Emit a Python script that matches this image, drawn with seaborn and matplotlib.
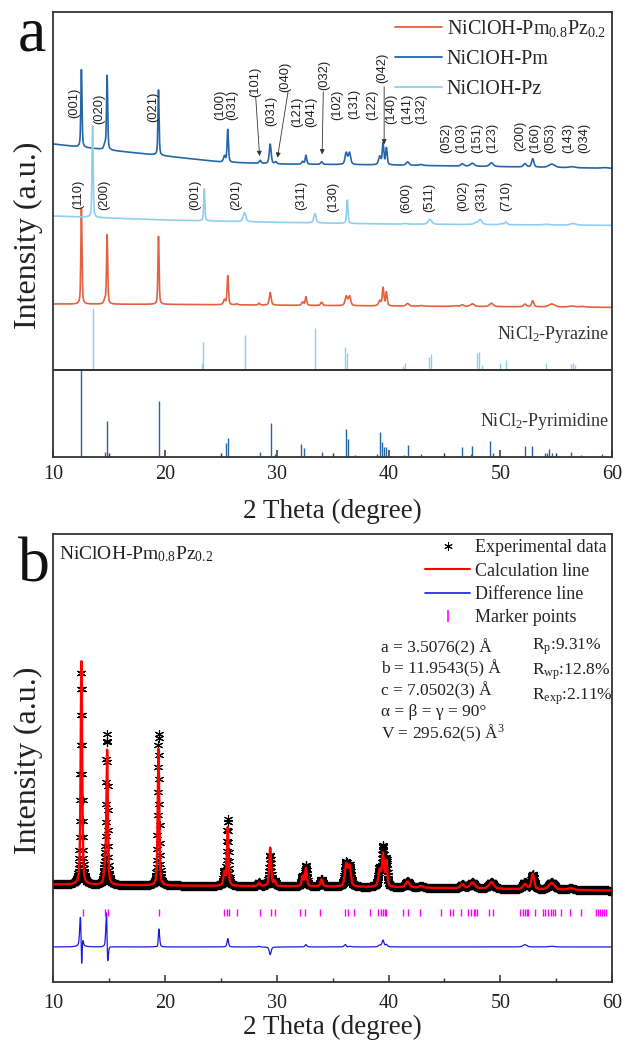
import numpy as np
import seaborn as sns
import matplotlib
matplotlib.use("Agg")
import matplotlib.pyplot as plt
from matplotlib.lines import Line2D

# ---------------- data ----------------
# 2-theta grid of the measurement
tth = np.arange(10, 60.001, 0.02)

# panel a: NiClOH-Pm pattern (peak position, height, half width) + background knots
pm_pos = [12.5, 14.6, 14.8, 19.4, 25.3, 25.6, 28.5, 29.4, 29.9, 32.3, 32.6, 34.0, 36.2, 36.5,
          39.2, 39.5, 39.8, 41.7, 42.9, 46.6, 47.5, 49.2, 52.2, 52.9, 54.6, 56.4, 59.3]
pm_h = [233, 15, 222, 196, 18, 98, 9, 59, 6, 8, 27, 8, 35, 35,
        25, 63, 50, 10, 3, 7, 9, 11, 10, 25, 10, 3, 2]
pm_w = [0.06, 0.1, 0.06, 0.06, 0.1, 0.07, 0.1, 0.1, 0.1, 0.1, 0.08, 0.1, 0.12, 0.12,
        0.12, 0.08, 0.08, 0.15, 0.2, 0.15, 0.2, 0.2, 0.15, 0.12, 0.3, 0.3, 0.3]
pm_bx = [10, 12, 20, 25, 30, 40, 50, 60]
pm_by = [938, 930, 902, 884, 878, 875, 870, 865]

# panel a: NiClOH-Pz pattern
pz_pos = [13.5, 23.5, 27.1, 33.4, 36.3, 41.5, 43.7, 47.8, 48.2, 50.1, 50.5, 54.1, 56.5]
pz_h = [274, 96, 27, 28, 70, 2, 15, 5, 15, 3, 8, 2, 5]
pz_w = [0.06, 0.06, 0.14, 0.12, 0.07, 0.2, 0.18, 0.2, 0.18, 0.15, 0.12, 0.3, 0.3]
pz_bx = [10, 20, 30, 40, 60]
pz_by = [722, 710, 703, 698, 694]

# panel a: NiClOH-Pm0.8Pz0.2 pattern
mix_pos = [12.5, 14.6, 14.8, 19.4, 25.3, 25.6, 26.4, 28.4, 29.4, 32.3, 32.6, 34.0, 36.2, 36.5,
           39.2, 39.5, 39.8, 41.7, 42.9, 45.9, 46.6, 47.5, 49.2, 52.2, 52.9, 54.6, 56.4, 57.3]
mix_h = [287, 12, 207, 204, 15, 87, 3, 5, 38, 10, 26, 10, 28, 28,
         15, 54, 41, 8, 2, 2, 5, 8, 10, 8, 18, 9, 3, 2]
mix_w = [0.06, 0.1, 0.06, 0.06, 0.1, 0.07, 0.1, 0.1, 0.1, 0.1, 0.08, 0.1, 0.12, 0.12,
         0.12, 0.08, 0.08, 0.15, 0.2, 0.2, 0.15, 0.2, 0.2, 0.15, 0.12, 0.3, 0.3, 0.3]
mix_bx = [10, 20, 40, 60]
mix_by = [458, 457, 452, 448]

# reference sticks
pyrazine_pos = [13.5, 23.3, 23.4, 27.1, 33.4, 36.1, 36.3, 41.3, 41.5, 43.6, 43.8, 47.9, 48.1, 48.4,
                50.0, 50.5, 54.1, 56.3, 56.5, 56.7]
pyrazine_h = [185, 20, 85, 105, 125, 68, 50, 12, 20, 40, 47, 50, 55, 15,
              20, 30, 20, 18, 20, 15]
pyrimidine_pos = [12.5, 14.6, 14.8, 19.4, 25.4, 25.6, 26.4, 28.5, 29.5, 29.8, 32.2, 32.4, 34.0,
                  36.2, 36.4, 37.0, 39.0, 39.2, 39.4, 39.6, 39.8, 41.4, 41.7, 42.9, 46.6, 47.4,
                  47.5, 49.1, 49.3, 52.2, 52.8, 54.0, 54.2, 54.4, 54.6, 56.3, 57.2, 59.1]
pyrimidine_h = [260, 15, 108, 168, 40, 55, 3, 15, 102, 7, 37, 27, 14,
                83, 52, 5, 8, 73, 45, 30, 28, 5, 34, 8, 30, 8,
                32, 48, 12, 33, 32, 10, 12, 22, 10, 15, 4, 8]

# hkl labels: (text, 2theta, height)
pm_hkl = [("(001)", 11.9, 1062), ("(020)", 14.1, 1043), ("(021)", 18.9, 1050),
          ("(100)", 24.9, 1056), ("(031)", 26.0, 1055), ("(101)", 28.1, 1125),
          ("(031)", 29.5, 1036), ("(040)", 30.75, 1140), ("(121)", 31.85, 1035),
          ("(041)", 33.05, 1035), ("(032)", 34.2, 1146), ("(102)", 35.4, 1057),
          ("(131)", 36.9, 1057), ("(122)", 38.5, 1055), ("(042)", 39.4, 1168),
          ("(140)", 40.25, 1043), ("(141)", 41.65, 1043), ("(132)", 42.95, 1043),
          ("(052)", 45.2, 957), ("(103)", 46.5, 957), ("(151)", 47.9, 957),
          ("(123)", 49.3, 957), ("(200)", 51.8, 962), ("(160)", 53.1, 957),
          ("(053)", 54.5, 957), ("(143)", 56.1, 957), ("(034)", 57.5, 957)]
pz_hkl = [("(110)", 12.2, 787), ("(200)", 14.5, 787), ("(001)", 22.7, 787),
          ("(201)", 26.4, 787), ("(311)", 32.2, 785), ("(130)", 35.0, 780),
          ("(600)", 41.6, 777), ("(511)", 43.6, 777), ("(002)", 46.7, 782),
          ("(331)", 48.3, 782), ("(710)", 50.5, 782)]
# arrows: (tail x, tail y, head x, head y)
pm_arrows = [(28.1, 1080, 28.45, 902), (31.0, 1095, 30.05, 897),
             (34.15, 1095, 34.05, 907), (39.6, 1110, 39.6, 937)]

# panel b: Rietveld refinement
calc_pos = [12.5, 14.6, 14.8, 19.4, 25.3, 25.6, 28.4, 29.4, 29.8, 32.3, 32.6, 34.0, 36.2, 36.5,
            39.2, 39.5, 39.8, 41.7, 42.9, 46.6, 47.5, 49.2, 52.2, 52.9, 54.6, 56.3]
calc_h = [670, 40, 400, 410, 40, 175, 10, 115, 15, 30, 55, 22, 65, 60,
          50, 95, 75, 18, 5, 12, 18, 20, 15, 45, 20, 5]
calc_w = [0.08, 0.1, 0.08, 0.08, 0.1, 0.08, 0.1, 0.1, 0.1, 0.1, 0.1, 0.12, 0.14, 0.14,
          0.14, 0.1, 0.1, 0.2, 0.2, 0.18, 0.25, 0.25, 0.2, 0.15, 0.3, 0.3]
exp_pos = [12.49, 14.6, 14.78, 19.405, 25.3, 25.6, 28.4, 29.4, 29.8, 32.3, 32.6, 34.0, 36.19, 36.5,
           39.2, 39.5, 39.8, 41.7, 42.9, 46.6, 47.5, 49.2, 52.2, 52.9, 54.6, 56.3]
exp_h = [640, 40, 445, 455, 40, 200, 12, 92, 15, 30, 62, 22, 70, 62,
         55, 115, 82, 18, 5, 12, 18, 20, 22, 45, 22, 5]
exp_w = [0.093, 0.1, 0.08, 0.08, 0.1, 0.08, 0.1, 0.1, 0.1, 0.1, 0.1, 0.12, 0.14, 0.14,
         0.14, 0.1, 0.1, 0.2, 0.2, 0.18, 0.25, 0.25, 0.2, 0.15, 0.3, 0.3]
ref_bx = [10, 20, 30, 40, 50, 60]
ref_by = [292, 289, 287, 284, 279, 274]
diff_offset = 105
marker_pos = [12.6, 14.6, 14.9, 19.45, 25.3, 25.5, 25.7, 26.4, 28.5, 29.5, 29.8, 32.1, 32.5,
              33.9, 36.1, 36.4, 36.9, 38.3, 39.05, 39.3, 39.5, 39.7, 39.8, 41.25, 41.7, 42.85,
              44.7, 45.5, 45.8, 46.5, 47.1, 47.4, 47.6, 47.7, 47.9, 49.0, 49.35, 51.8, 52.0,
              52.2, 52.35, 52.5, 53.1, 53.8, 54.0, 54.25, 54.5, 54.7, 54.85, 55.4, 56.2, 57.2,
              58.6, 58.75, 58.9, 59.1, 59.3, 59.5]
cell_text = ["a = 3.5076(2) Å", "b = 11.9543(5) Å", "c = 7.0502(3) Å",
             "α = β = γ = 90°", "V = 295.62(5) Å$^{3}$"]
r_text = [r"R$_\mathrm{p}$:9.31%", r"R$_\mathrm{wp}$:12.8%", r"R$_\mathrm{exp}$:2.11%"]


def profile(pos, h, w, bx, by):
    y = np.interp(tth, bx, by)
    for p, hh, ww in zip(pos, h, w):
        d = (tth - p) / ww
        y = y + hh * (0.5 / (1 + d ** 2) + 0.5 * np.exp(-np.log(2) * d ** 2))
    return y


pm_y = profile(pm_pos, pm_h, pm_w, pm_bx, pm_by)
pz_y = profile(pz_pos, pz_h, pz_w, pz_bx, pz_by)
mix_y = profile(mix_pos, mix_h, mix_w, mix_bx, mix_by)
calc_y = profile(calc_pos, calc_h, calc_w, ref_bx, ref_by)
exp_y = profile(exp_pos, exp_h, exp_w, ref_bx, ref_by)
diff_y = exp_y - calc_y + diff_offset

# ---------------- style ----------------
sns.set_theme(style="ticks")
plt.rcParams["font.family"] = ["Liberation Serif", "DejaVu Serif"]
plt.rcParams["mathtext.fontset"] = "custom"
plt.rcParams["mathtext.rm"] = "Liberation Serif"
plt.rcParams["mathtext.it"] = "Liberation Serif:italic"
plt.rcParams["axes.edgecolor"] = "#333333"
plt.rcParams["axes.linewidth"] = 1.3

c_mix = "#E2623F"
c_pm = "#2566A8"
c_pz = "#8DCFF2"

fig = plt.figure(figsize=(6.22, 10.42), dpi=100)
ax_a = fig.add_axes([0.0860, 0.5617, 0.8980, 0.4271])
ax_b = fig.add_axes([0.0860, 0.0576, 0.8980, 0.4299])

# ---------------- panel a ----------------
sns.lineplot(x=tth, y=mix_y, ax=ax_a, color=c_mix, lw=1.2, estimator=None)
sns.lineplot(x=tth, y=pm_y, ax=ax_a, color=c_pm, lw=1.2, estimator=None)
sns.lineplot(x=tth, y=pz_y, ax=ax_a, color=c_pz, lw=1.2, estimator=None)
sep = 260
ax_a.vlines(pyrazine_pos, sep, sep + np.array(pyrazine_h), color=c_pz, lw=1.0)
ax_a.vlines(pyrimidine_pos, 0, pyrimidine_h, color=c_pm, lw=1.0)
ax_a.axhline(sep, color="#222222", lw=1.3)

for t, x, y in pm_hkl + pz_hkl:
    ax_a.text(x, y, t, rotation=90, ha="center", va="center", fontsize=9.3,
              family="Liberation Sans", color="#222222")
for x0, y0, x1, y1 in pm_arrows:
    ax_a.annotate("", xy=(x1, y1), xytext=(x0, y0),
                  arrowprops=dict(arrowstyle="-|>", color="#333333", lw=0.6,
                                  mutation_scale=7, shrinkA=0, shrinkB=0))

ax_a.text(59.8, 367, r"NiCl$_\mathrm{2}$-Pyrazine", ha="right", va="center", fontsize=13, color="#333333")
ax_a.text(59.8, 105, r"NiCl$_\mathrm{2}$-Pyrimidine", ha="right", va="center", fontsize=13, color="#333333")

handles_a = [Line2D([], [], color=c_mix, lw=1.3), Line2D([], [], color=c_pm, lw=1.3),
             Line2D([], [], color=c_pz, lw=1.3)]
labels_a = [r"NiClOH-Pm$_\mathrm{0.8}$Pz$_\mathrm{0.2}$", "NiClOH-Pm", "NiClOH-Pz"]
ax_a.legend(handles_a, labels_a, loc="upper right", bbox_to_anchor=(1.0, 1.0), frameon=False,
            fontsize=14.5, handlelength=2.3, handletextpad=0.25, labelspacing=0.55,
            borderaxespad=0.1, borderpad=0.2)

ax_a.set_xlim(10, 60)
ax_a.set_ylim(0, 1335)

# ---------------- panel b ----------------
ax_b.plot(tth, exp_y, ls="none", marker=(6, 2, 0), ms=6.5, mew=0.8, color="black")
sns.lineplot(x=tth, y=calc_y, ax=ax_b, color="#FF0000", lw=1.7, estimator=None)
sns.lineplot(x=tth, y=diff_y, ax=ax_b, color="#1A1AE6", lw=0.9, estimator=None)
ax_b.vlines(marker_pos, 198, 220, color="#FF00FF", lw=1.0)

ax_b.text(0.01, 0.955, r"NiClOH-Pm$_\mathrm{0.8}$Pz$_\mathrm{0.2}$", transform=ax_b.transAxes,
          ha="left", va="center", fontsize=14, color="#222222")
for i, t in enumerate(cell_text):
    ax_b.text(0.587, 0.746 - i * 0.0475, t, transform=ax_b.transAxes, ha="left", va="center",
              fontsize=12.5, color="#222222")
for i, t in enumerate(r_text):
    ax_b.text(0.857, 0.748 - i * 0.056, t, transform=ax_b.transAxes, ha="left", va="center",
              fontsize=12.5, color="#222222")

handles_b = [Line2D([], [], ls="none", marker=(6, 2, 0), ms=6, mew=0.7, color="black"),
             Line2D([], [], color="#FF0000", lw=1.5),
             Line2D([], [], color="#1A1AE6", lw=1.2),
             Line2D([], [], ls="none", marker="|", ms=8, mew=1.2, color="#FF00FF")]
labels_b = ["Experimental data", "Calculation line", "Difference line", "Marker points"]
ax_b.legend(handles_b, labels_b, loc="upper right", bbox_to_anchor=(1.0, 1.0), frameon=False,
            fontsize=13, handlelength=2.5, handletextpad=0.25, labelspacing=0.35,
            borderaxespad=0.1, borderpad=0.2)

ax_b.set_xlim(10, 60)
ax_b.set_ylim(0, 1343)

# ---------------- shared axis styling ----------------
for ax, tpad, lpad in ((ax_a, 6, 11), (ax_b, 9, 1)):
    ax.set_yticks([])
    ax.set_xticks([10, 20, 30, 40, 50, 60])
    ax.set_xticks([15, 25, 35, 45, 55], minor=True)
    ax.tick_params(axis="x", which="major", direction="in", length=5, width=1.1,
                   labelsize=14.5, pad=tpad, colors="#333333", labelcolor="#222222")
    ax.tick_params(axis="x", which="minor", direction="in", length=3, width=1.0, colors="#333333")
    ax.set_xlabel("2 Theta (degree)", fontsize=19.5, labelpad=lpad, color="#222222")
    ax.set_ylabel("")
    for s in ax.spines.values():
        s.set_visible(True)

fig.text(0.045, 1 - 235 / 1042, "Intensity (a.u.)", rotation=90, ha="center", va="center",
         fontsize=23, color="#222222")
fig.text(0.045, 1 - 760 / 1042, "Intensity (a.u.)", rotation=90, ha="center", va="center",
         fontsize=23, color="#222222")
fig.text(0.029, 0.952, "a", fontsize=46, ha="left", va="baseline", color="#111111")
fig.text(0.029, 0.4415, "b", fontsize=46, ha="left", va="baseline", color="#111111")

fig.savefig("out.png", dpi=100)
